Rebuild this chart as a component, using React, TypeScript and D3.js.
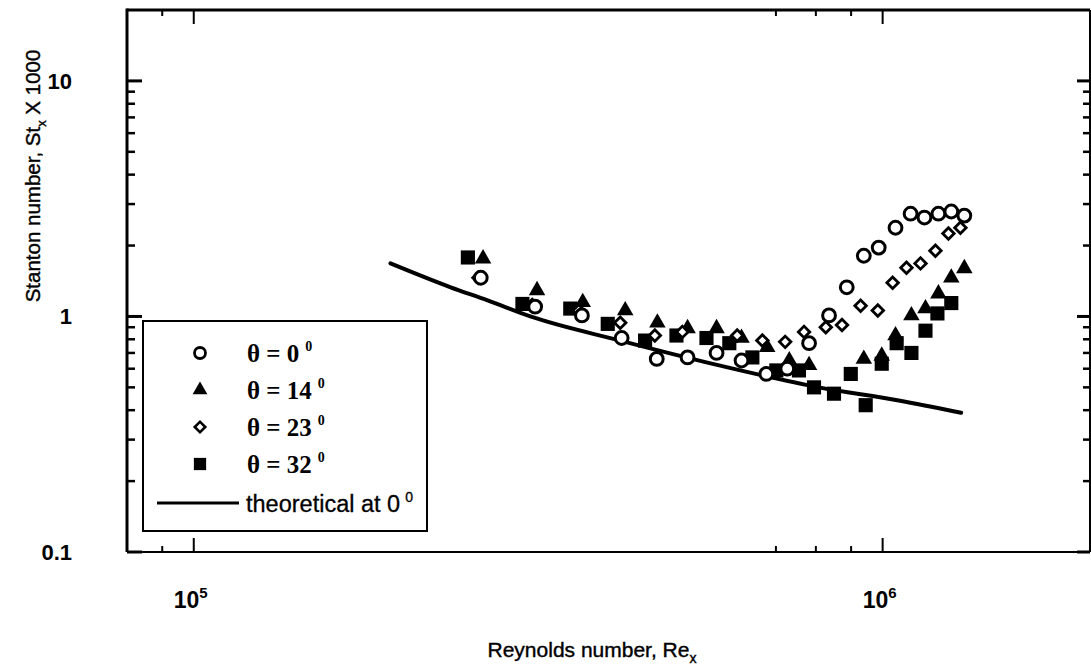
import React from 'react';
import * as d3 from 'd3';

// ---- data ----
const reTheta0 = [2.61e5, 3.13e5, 3.66e5, 4.18e5, 4.70e5, 5.21e5, 5.74e5, 6.24e5, 6.78e5, 7.27e5, 7.82e5, 8.36e5, 8.87e5, 9.39e5, 9.87e5, 1.044e6, 1.098e6, 1.15e6, 1.205e6, 1.258e6, 1.314e6];
const stTheta0 = [1.46, 1.10, 1.01, 0.81, 0.66, 0.67, 0.70, 0.65, 0.57, 0.60, 0.77, 1.01, 1.33, 1.81, 1.96, 2.38, 2.73, 2.63, 2.73, 2.79, 2.68];

const reTheta14 = [2.63e5, 3.15e5, 3.67e5, 4.23e5, 4.71e5, 5.21e5, 5.74e5, 6.24e5, 6.80e5, 7.32e5, 7.82e5, 9.39e5, 9.97e5, 1.044e6, 1.101e6, 1.154e6, 1.205e6, 1.258e6, 1.314e6];
const stTheta14 = [1.76, 1.29, 1.15, 1.06, 0.94, 0.89, 0.89, 0.81, 0.74, 0.65, 0.62, 0.66, 0.68, 0.83, 1.01, 1.08, 1.25, 1.46, 1.60];

const reTheta23 = [2.59e5, 3.10e5, 3.62e5, 4.16e5, 4.67e5, 5.12e5, 6.15e5, 6.69e5, 7.22e5, 7.69e5, 8.27e5, 8.73e5, 9.29e5, 9.84e5, 1.034e6, 1.083e6, 1.135e6, 1.193e6, 1.246e6, 1.297e6];
const stTheta23 = [1.46, 1.12, 1.06, 0.94, 0.83, 0.86, 0.83, 0.79, 0.78, 0.86, 0.90, 0.92, 1.11, 1.06, 1.39, 1.61, 1.68, 1.90, 2.25, 2.38];

const reTheta32 = [2.50e5, 3.00e5, 3.52e5, 3.99e5, 4.52e5, 5.02e5, 5.55e5, 5.99e5, 6.47e5, 7.01e5, 7.56e5, 7.95e5, 8.50e5, 8.99e5, 9.45e5, 9.97e5, 1.048e6, 1.101e6, 1.154e6, 1.201e6, 1.258e6];
const stTheta32 = [1.78, 1.13, 1.08, 0.93, 0.79, 0.83, 0.81, 0.77, 0.67, 0.59, 0.59, 0.50, 0.47, 0.57, 0.42, 0.63, 0.77, 0.70, 0.87, 1.03, 1.14];

const reTheory = [1.93e5, 2.36e5, 2.67e5, 3.08e5, 4.16e5, 5.79e5, 8.08e5, 1.055e6, 1.30e6];
const stTheory = [1.68, 1.33, 1.17, 1.0, 0.79, 0.62, 0.50, 0.44, 0.39];

const yTickLabels = ['0.1', '1', '10'];
const yTickValues = [0.1, 1, 10];
const xMajorExp = ['5', '6'];
const xMajorValues = [1e5, 1e6];
const xMinorValues = [9e4, 7e5, 8e5, 9e5];
const legendLabels = ['\u03b8 = 0', '\u03b8 = 14', '\u03b8 = 23', '\u03b8 = 32'];

const X0 = 127, X1 = 1090, Y0 = 10, Y1 = 552;

export default function App() {
  const x = d3.scaleLog().domain([8e4, 2e6]).range([X0, X1]);
  const y = d3.scaleLog().domain([0.1, 20]).range([Y1, Y0]);

  const yMinor: number[] = [];
  [0.1, 1, 10].forEach((d) => {
    for (let k = 2; k <= 9; k++) if (d * k < 20) yMinor.push(d * k);
  });

  const line = d3
    .line<[number, number]>()
    .x((d) => x(d[0]))
    .y((d) => y(d[1]))
    .curve(d3.curveMonotoneX);
  const theoryPts: [number, number][] = reTheory.map((r, i) => [r, stTheory[i]]);

  const tri = d3.symbol().type(d3.symbolTriangle).size(118)() as string;
  const sq = d3.symbol().type(d3.symbolSquare).size(200)() as string;
  const dia = d3.symbol().type(d3.symbolSquare).size(66)() as string;
  const triL = d3.symbol().type(d3.symbolTriangle).size(95)() as string;
  const sqL = d3.symbol().type(d3.symbolSquare).size(150)() as string;
  const diaL = d3.symbol().type(d3.symbolSquare).size(55)() as string;

  const sans = '"Liberation Sans", Arial, Helvetica, sans-serif';
  const serif = '"Liberation Serif", "Times New Roman", serif';

  const legendY = [353, 390, 427, 464];

  return (
    <svg width={1091} height={671} style={{ position: 'absolute', left: 0, top: 0, background: '#fff' }}>
      <rect x={0} y={0} width={1091} height={671} fill="#fff" />

      {/* data: theory line */}
      <path d={line(theoryPts) || ''} fill="none" stroke="#000" strokeWidth={4} strokeLinecap="round" />

      {/* theta = 32 squares */}
      {reTheta32.map((r, i) => (
        <path key={'s' + i} d={sq} transform={`translate(${x(r)},${y(stTheta32[i])})`} fill="#000" />
      ))}
      {/* theta = 14 triangles */}
      {reTheta14.map((r, i) => (
        <path key={'t' + i} d={tri} transform={`translate(${x(r)},${y(stTheta14[i])})`} fill="#000" />
      ))}
      {/* theta = 23 diamonds */}
      {reTheta23.map((r, i) => (
        <path key={'d' + i} d={dia} transform={`translate(${x(r)},${y(stTheta23[i])}) rotate(45)`} fill="#fff" stroke="#000" strokeWidth={2.8} />
      ))}
      {/* theta = 0 circles */}
      {reTheta0.map((r, i) => (
        <circle key={'c' + i} cx={x(r)} cy={y(stTheta0[i])} r={6.4} fill="#fff" stroke="#000" strokeWidth={3} />
      ))}

      {/* frame */}
      <line x1={X0} y1={Y0} x2={X1} y2={Y0} stroke="#000" strokeWidth={3} />
      <line x1={X0} y1={Y0 - 1.5} x2={X0} y2={Y1} stroke="#000" strokeWidth={3} />
      <line x1={X1} y1={Y0} x2={X1} y2={Y1} stroke="#000" strokeWidth={2} />
      <line x1={X0} y1={Y1} x2={X1} y2={Y1} stroke="#000" strokeWidth={2} />

      {/* y ticks */}
      {yTickValues.map((v) => (
        <g key={'ym' + v}>
          <line x1={X0} x2={X0 + 15} y1={y(v)} y2={y(v)} stroke="#000" strokeWidth={3} />
          <line x1={X1} x2={X1 - 13} y1={y(v)} y2={y(v)} stroke="#000" strokeWidth={3} />
        </g>
      ))}
      {yMinor.map((v) => (
        <g key={'yn' + v}>
          <line x1={X0} x2={X0 + 8} y1={y(v)} y2={y(v)} stroke="#000" strokeWidth={2.5} />
          <line x1={X1} x2={X1 - 7} y1={y(v)} y2={y(v)} stroke="#000" strokeWidth={2.5} />
        </g>
      ))}
      {/* x ticks */}
      {xMajorValues.map((v) => (
        <g key={'xm' + v}>
          <line x1={x(v)} x2={x(v)} y1={Y1} y2={Y1 - 14} stroke="#000" strokeWidth={2} />
          <line x1={x(v)} x2={x(v)} y1={Y0} y2={Y0 + 14} stroke="#000" strokeWidth={2} />
        </g>
      ))}
      {xMinorValues.map((v) => (
        <g key={'xn' + v}>
          <line x1={x(v)} x2={x(v)} y1={Y1} y2={Y1 - 6} stroke="#000" strokeWidth={2} />
          <line x1={x(v)} x2={x(v)} y1={Y0} y2={Y0 + 6} stroke="#000" strokeWidth={2} />
        </g>
      ))}

      {/* y tick labels */}
      {yTickValues.map((v, i) => (
        <text key={'yl' + v} x={72} y={y(v) + 8} textAnchor="end" fontFamily={sans} fontWeight="bold" fontSize={22}>
          {yTickLabels[i]}
        </text>
      ))}
      {/* x tick labels */}
      {xMajorValues.map((v, i) => (
        <text key={'xl' + v} x={x(v) - 20} y={608} fontFamily={sans} fontWeight="bold" fontSize={23}>
          10
          <tspan dy={-10} fontSize={15}>{xMajorExp[i]}</tspan>
        </text>
      ))}

      {/* axis titles */}
      <text x={592} y={657} textAnchor="middle" fontFamily={sans} fontSize={21} stroke="#000" strokeWidth={0.4}>
        Reynolds number, Re
        <tspan dy={6} fontSize={14}>x</tspan>
      </text>
      <text transform="translate(40,176) rotate(-90)" textAnchor="middle" fontFamily={sans} fontSize={20.5} stroke="#000" strokeWidth={0.4}>
        Stanton number, St
        <tspan dy={6} fontSize={13}>x</tspan>
        <tspan dy={-6}> X 1000</tspan>
      </text>

      {/* legend */}
      <rect x={143} y={321} width={284} height={210} fill="#fff" stroke="#000" strokeWidth={2} />
      <circle cx={200} cy={legendY[0]} r={5.5} fill="#fff" stroke="#000" strokeWidth={2.8} />
      <path d={triL} transform={`translate(200,${legendY[1]})`} fill="#000" />
      <path d={diaL} transform={`translate(200,${legendY[2]}) rotate(45)`} fill="#fff" stroke="#000" strokeWidth={2.6} />
      <path d={sqL} transform={`translate(200,${legendY[3]})`} fill="#000" />
      {legendLabels.map((t, i) => (
        <text key={'lg' + i} x={247} y={legendY[i] + 9} fontFamily={serif} fontWeight="bold" fontSize={25}>
          {t}
          <tspan dx={6} dy={-11} fontSize={14}>0</tspan>
        </text>
      ))}
      <line x1={157} x2={239} y1={503} y2={503} stroke="#000" strokeWidth={3} />
      <text x={246} y={512} fontFamily={sans} fontSize={23.5} stroke="#000" strokeWidth={0.3}>
        theoretical at 0
        <tspan dx={5} dy={-10} fontSize={14}>0</tspan>
      </text>
    </svg>
  );
}
